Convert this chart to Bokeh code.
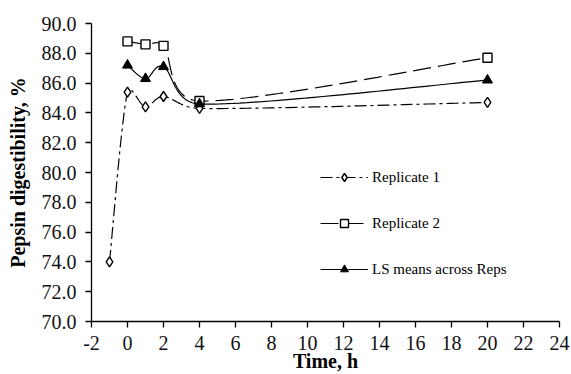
import numpy as np
from bokeh.plotting import figure
from bokeh.models import (FixedTicker, PrintfTickFormatter, Legend, LegendItem,
                          Range1d)
from bokeh.embed import file_html
from bokeh.resources import INLINE

# ---- data ----
rep1_x = [-1, 0, 1, 2, 4, 20]
rep1_y = [74.0, 85.4, 84.4, 85.1, 84.3, 84.7]
rep2_x = [0, 1, 2, 4, 20]
rep2_y = [88.8, 88.6, 88.5, 84.8, 87.7]
ls_x = [0, 1, 2, 4, 20]
ls_y = [87.2, 86.3, 87.1, 84.6, 86.2]
x_ticks = [-2, 0, 2, 4, 6, 8, 10, 12, 14, 16, 18, 20, 22, 24]
y_ticks = [70, 72, 74, 76, 78, 80, 82, 84, 86, 88, 90]

SERIF = "Liberation Serif"
X_MIN, X_MAX, Y_MIN, Y_MAX = -2, 24, 70, 90
W, H = 571, 374
BL, BR, BT, BB = 91, 12, 23, 53


def smooth(xs, ys, n=40):
    """Excel-style Bezier smoothing through the data points (screen space)."""
    kx = (W - BL - BR) / (X_MAX - X_MIN)
    ky = (H - BT - BB) / (Y_MAX - Y_MIN)
    P = np.column_stack([np.asarray(xs, float) * kx, np.asarray(ys, float) * ky])
    m = len(P)
    out = []
    t = np.linspace(0, 1, n)[:, None]
    for i in range(m - 1):
        p0 = P[i - 1] if i > 0 else P[i]
        p1 = P[i]
        p2 = P[i + 1]
        p3 = P[i + 2] if i + 2 < m else P[i + 1]
        d12 = np.hypot(*(p2 - p1))
        d02 = np.hypot(*(p2 - p0))
        d13 = np.hypot(*(p3 - p1))
        if d02 / 6 < d12 / 2 or d02 == 0:
            c1 = p1 + (p2 - p0) / 6.0
        else:
            c1 = p1 + (p2 - p0) * (d12 / 2) / d02
        if d13 / 6 < d12 / 2 or d13 == 0:
            c2 = p2 - (p3 - p1) / 6.0
        else:
            c2 = p2 - (p3 - p1) * (d12 / 2) / d13
        seg = ((1 - t) ** 3) * p1 + 3 * ((1 - t) ** 2) * t * c1 \
            + 3 * (1 - t) * t ** 2 * c2 + t ** 3 * p2
        if i > 0:
            seg = seg[1:]
        out.append(seg)
    pts = np.vstack(out)
    return pts[:, 0] / kx, pts[:, 1] / ky


p = figure(width=W, height=H, output_backend="svg", toolbar_location=None,
           x_range=Range1d(X_MIN, X_MAX), y_range=Range1d(Y_MIN, Y_MAX),
           min_border_left=BL, min_border_right=BR, min_border_top=BT,
           min_border_bottom=BB)
p.outline_line_color = None
p.grid.visible = False
p.background_fill_color = "white"
p.border_fill_color = "white"

for ax in (p.xaxis[0], p.yaxis[0]):
    ax.axis_line_color = "black"
    ax.axis_line_width = 1.3
    ax.major_tick_line_color = "black"
    ax.major_tick_line_width = 1.3
    ax.major_tick_out = 6
    ax.major_tick_in = 0
    ax.minor_tick_line_color = None
    ax.major_label_text_font = SERIF
    ax.major_label_text_font_size = "20px"
    ax.major_label_text_color = "#111111"
    ax.axis_label_text_font = SERIF
    ax.axis_label_text_font_style = "bold"
    ax.axis_label_text_font_size = "20px"
    ax.axis_label_text_color = "black"

p.xaxis.ticker = FixedTicker(ticks=x_ticks)
p.yaxis.ticker = FixedTicker(ticks=y_ticks)
p.yaxis.formatter = PrintfTickFormatter(format="%.1f")
p.xaxis.formatter = PrintfTickFormatter(format="%d")
p.xaxis.axis_label = "Time, h"
p.yaxis.axis_label = "Pepsin digestibility, %"
p.xaxis.major_label_standoff = 8
p.yaxis.major_label_standoff = 9
p.xaxis.axis_label_standoff = -3
p.yaxis.axis_label_standoff = 10

sx, sy = smooth(rep1_x, rep1_y)
l1 = p.line(sx, sy, line_color="black", line_width=1.2, line_dash="12 4 3 4")
m1 = p.scatter(rep1_x, rep1_y, marker="diamond", size=10, fill_color="white",
               line_color="black", line_width=1.4)

sx, sy = smooth(rep2_x, rep2_y)
l2 = p.line(sx, sy, line_color="black", line_width=1.2, line_dash="18 7")
m2 = p.scatter(rep2_x, rep2_y, marker="square", size=9, fill_color="white",
               line_color="black", line_width=1.4)

sx, sy = smooth(ls_x, ls_y)
l3 = p.line(sx, sy, line_color="black", line_width=1.2)
m3 = p.scatter(ls_x, ls_y, marker="triangle", size=10, fill_color="black",
               line_color="black", line_width=1)

legend = Legend(items=[
    LegendItem(label="Replicate 1", renderers=[l1, m1]),
    LegendItem(label="Replicate 2", renderers=[l2, m2]),
    LegendItem(label="LS means across Reps", renderers=[l3, m3]),
], location=(229, 42))
legend.label_text_font = SERIF
legend.label_text_font_size = "15px"
legend.label_text_color = "black"
legend.glyph_width = 48
legend.glyph_height = 20
legend.spacing = 26
legend.padding = 0
legend.margin = 0
legend.label_standoff = 4
legend.border_line_color = None
legend.background_fill_alpha = 0
p.add_layout(legend)

open("out.html", "w").write(file_html(p, INLINE))
